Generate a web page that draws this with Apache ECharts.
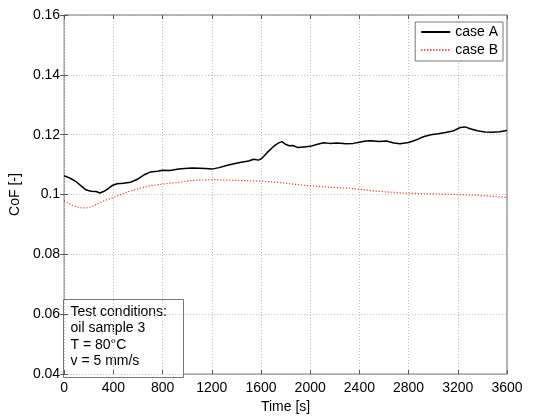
<!DOCTYPE html>
<html>
<head>
<meta charset="utf-8">
<script src="https://cdn.jsdelivr.net/npm/echarts@6/dist/echarts.min.js"></script>
<style>html,body{margin:0;padding:0;background:#fff}#c{width:541px;height:419px}</style>
</head>
<body>
<div id="c"></div>
<script>
const timeA = [0,30,60,100,140,180,220,260,290,320,350,390,430,480,540,600,650,700,760,800,860,930,980,1040,1100,1150,1200,1260,1320,1380,1440,1500,1540,1580,1610,1650,1700,1740,1770,1800,1830,1860,1900,1950,2000,2060,2110,2160,2220,2290,2350,2400,2450,2500,2560,2620,2680,2730,2800,2860,2920,2980,3040,3100,3160,3220,3260,3300,3360,3420,3480,3540,3600];
const cofA = [0.1063,0.1058,0.1052,0.1042,0.1028,0.1015,0.1011,0.1010,0.1005,0.1010,0.1017,0.1030,0.1036,0.1038,0.1041,0.1052,0.1066,0.1075,0.1078,0.1081,0.1080,0.1085,0.1087,0.1089,0.1088,0.1087,0.1085,0.1090,0.1097,0.1103,0.1108,0.1112,0.1118,0.1115,0.1122,0.1140,0.1160,0.1172,0.1177,0.1168,0.1163,0.1164,0.1157,0.1159,0.1161,0.1168,0.1173,0.1171,0.1172,0.1170,0.1171,0.1175,0.1179,0.1180,0.1177,0.1179,0.1172,0.1170,0.1174,0.1182,0.1193,0.1200,0.1203,0.1207,0.1212,0.1224,0.1226,0.1220,0.1213,0.1209,0.1208,0.1210,0.1214];
const timeB = [0,40,80,130,180,230,290,350,400,460,520,600,680,760,840,920,1000,1080,1160,1240,1320,1420,1520,1620,1720,1820,1920,2020,2120,2220,2320,2420,2520,2620,2720,2820,2920,3020,3120,3220,3320,3420,3520,3600];
const cofB = [0.0980,0.0970,0.0962,0.0956,0.0955,0.0960,0.0973,0.0983,0.0990,0.1000,0.1010,0.1019,0.1028,0.1033,0.1037,0.1040,0.1045,0.1048,0.1049,0.1050,0.1048,0.1047,0.1046,0.1044,0.1041,0.1037,0.1032,0.1029,0.1026,0.1023,0.1021,0.1017,0.1012,0.1009,0.1006,0.1004,0.1003,0.1002,0.1001,0.1000,0.0998,0.0996,0.0993,0.0990];
const seriesNames = ['case A','case B'];
const xLabel = 'Time [s]';
const yLabel = 'CoF [-]';
const noteLines = ['Test conditions:','oil sample 3','T = 80°C','v = 5 mm/s'];

const FONT = '"Liberation Sans", Arial, sans-serif';
const chart = echarts.init(document.getElementById('c'));
const fmtY = v => String(+(+v).toFixed(2));
const fmtX = v => String(Math.round(v));
const tick = {show:true, inside:true, length:4, lineStyle:{color:'#555'}};
const gridLine = {show:true, lineStyle:{type:[1,2], color:'#bdbdbd', width:1}};
chart.setOption({
  animation:false,
  grid:{left:57, right:34, top:15, bottom:37, show:true, borderColor:'#666', borderWidth:1, backgroundColor:'#fff'},
  textStyle:{fontFamily:FONT},
  legend:{
    data:seriesNames, orient:'vertical', right:38, top:22,
    itemWidth:29, itemHeight:14, itemGap:4, padding:[3,5,4,5],
    backgroundColor:'#fff', borderColor:'#777', borderWidth:1, borderRadius:0,
    itemStyle:{color:'rgba(0,0,0,0)', borderWidth:0, opacity:0},
    textStyle:{fontSize:14, color:'#000', fontFamily:FONT}
  },
  xAxis:[{
    type:'value', min:0, max:3600, interval:400,
    axisLine:{show:false}, axisTick:tick, splitLine:gridLine,
    axisLabel:{color:'#000', fontSize:14, margin:7, fontFamily:FONT, formatter:fmtX},
    name:xLabel, nameLocation:'middle', nameGap:23,
    nameTextStyle:{color:'#000', fontSize:14, fontFamily:FONT}
  },{
    type:'value', position:'top', min:0, max:3600, interval:400,
    axisLine:{show:false}, axisTick:tick, axisLabel:{show:false}, splitLine:{show:false}
  }],
  yAxis:[{
    type:'value', min:0.04, max:0.16, interval:0.02,
    axisLine:{show:false}, axisTick:tick, splitLine:gridLine,
    axisLabel:{color:'#000', fontSize:14, margin:4, formatter:fmtY, fontFamily:FONT},
    name:yLabel, nameLocation:'middle', nameGap:38, nameRotate:90,
    nameTextStyle:{color:'#000', fontSize:14, fontFamily:FONT}
  },{
    type:'value', position:'right', min:0.04, max:0.16, interval:0.02,
    axisLine:{show:false}, axisTick:tick, axisLabel:{show:false}, splitLine:{show:false}
  }],
  series:[{
    name:seriesNames[0], type:'line', symbol:'none', showSymbol:false,
    data:timeA.map((t,i)=>[t,cofA[i]]),
    lineStyle:{color:'#000', width:1.5}, itemStyle:{color:'#000'}, z:3
  },{
    name:seriesNames[1], type:'line', symbol:'none', showSymbol:false,
    data:timeB.map((t,i)=>[t,cofB[i]]),
    lineStyle:{color:'#ff3030', width:1.2, type:[1.2,1.8]}, itemStyle:{color:'#ff3030'}, z:2
  }],
  graphic:[{
    type:'group', left:63, top:299, z:100,
    children:[
      {type:'rect', shape:{x:0,y:0,width:120,height:78}, style:{fill:'#fff', stroke:'#777', lineWidth:1}},
      {type:'text', x:7, y:4, style:{text:noteLines.join('\n'), fill:'#000', font:'14px '+FONT, lineHeight:16.5}}
    ]
  }]
});
</script>
</body>
</html>
